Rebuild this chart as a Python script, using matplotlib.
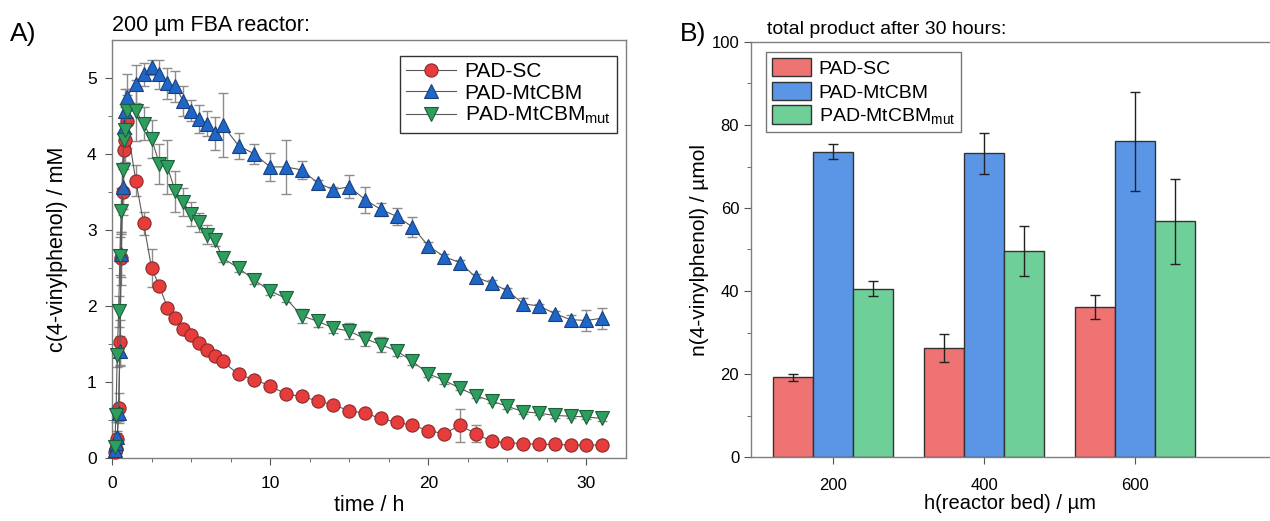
import matplotlib
matplotlib.use("Agg")
import matplotlib.pyplot as plt
import numpy as np

plt.rcParams["font.family"] = ["Liberation Sans", "DejaVu Sans"]
plt.rcParams["mathtext.fontset"] = "custom"
plt.rcParams["mathtext.rm"] = "Liberation Sans"
plt.rcParams["mathtext.it"] = "Liberation Sans:italic"

# --- panel A: time course in the 200 um FBA reactor ---
time_h = [0.17, 0.25, 0.33, 0.42, 0.5, 0.58, 0.67, 0.75, 0.83, 0.92,
          1.5, 2.0, 2.5, 3.0, 3.5, 4.0, 4.5, 5.0, 5.5, 6.0, 6.5, 7.0,
          8, 9, 10, 11, 12, 13, 14, 15, 16, 17, 18, 19, 20, 21, 22, 23,
          24, 25, 26, 27, 28, 29, 30, 31]

sc_conc = [0.08, 0.12, 0.25, 0.66, 1.52, 2.63, 3.50, 4.05, 4.19, 4.43,
           3.65, 3.09, 2.50, 2.26, 1.98, 1.84, 1.70, 1.62, 1.51, 1.42, 1.34, 1.27,
           1.10, 1.03, 0.95, 0.84, 0.81, 0.75, 0.70, 0.62, 0.59, 0.52, 0.47, 0.43,
           0.36, 0.32, 0.43, 0.32, 0.22, 0.20, 0.19, 0.18, 0.18, 0.17, 0.17, 0.17]
sc_err = [0.03, 0.05, 0.10, 0.20, 0.30, 0.35, 0.30, 0.25, 0.30, 0.35,
          0.20, 0.15, 0.25, 0.05, 0.04, 0.04, 0.04, 0.04, 0.04, 0.03, 0.03, 0.03,
          0.03, 0.03, 0.03, 0.05, 0.03, 0.03, 0.03, 0.03, 0.03, 0.03, 0.03, 0.03,
          0.03, 0.03, 0.22, 0.11, 0.03, 0.02, 0.02, 0.02, 0.02, 0.02, 0.02, 0.02]

cbm_conc = [0.10, 0.20, 0.28, 0.59, 1.41, 2.68, 3.57, 4.36, 4.56, 4.75,
            4.92, 5.05, 5.14, 5.05, 4.93, 4.89, 4.70, 4.57, 4.46, 4.40, 4.27, 4.38,
            4.11, 4.00, 3.83, 3.83, 3.79, 3.62, 3.53, 3.57, 3.40, 3.27, 3.18, 3.04,
            2.79, 2.65, 2.57, 2.38, 2.30, 2.20, 2.03, 2.00, 1.90, 1.82, 1.81, 1.84]
cbm_err = [0.03, 0.05, 0.05, 0.10, 0.20, 0.30, 0.30, 0.30, 0.30, 0.30,
           0.25, 0.15, 0.10, 0.19, 0.20, 0.20, 0.20, 0.14, 0.18, 0.16, 0.22, 0.42,
           0.17, 0.13, 0.18, 0.35, 0.12, 0.04, 0.04, 0.15, 0.17, 0.08, 0.11, 0.13,
           0.05, 0.04, 0.04, 0.04, 0.04, 0.04, 0.08, 0.03, 0.04, 0.06, 0.14, 0.14]

mut_conc = [0.15, 0.57, 1.35, 1.93, 2.66, 3.25, 3.79, 4.18, 4.32, 4.56,
            4.57, 4.40, 4.20, 3.87, 3.83, 3.51, 3.37, 3.21, 3.10, 2.94, 2.87, 2.63,
            2.50, 2.34, 2.20, 2.10, 1.87, 1.80, 1.71, 1.67, 1.57, 1.49, 1.41, 1.27,
            1.11, 1.02, 0.92, 0.82, 0.75, 0.68, 0.61, 0.59, 0.56, 0.55, 0.54, 0.52]
mut_err = [0.05, 0.10, 0.15, 0.20, 0.25, 0.30, 0.30, 0.30, 0.30, 0.30,
           0.40, 0.22, 0.25, 0.26, 0.35, 0.27, 0.18, 0.16, 0.13, 0.13, 0.08, 0.05,
           0.05, 0.05, 0.05, 0.05, 0.09, 0.08, 0.07, 0.10, 0.10, 0.10, 0.07, 0.05,
           0.05, 0.04, 0.03, 0.03, 0.03, 0.03, 0.03, 0.03, 0.03, 0.03, 0.03, 0.03]

# --- panel B: total product after 30 h ---
bed_height = [200, 400, 600]
sc_total = [19.2, 26.3, 36.2]
sc_total_err = [0.9, 3.3, 2.9]
cbm_total = [73.6, 73.2, 76.1]
cbm_total_err = [1.9, 4.9, 11.9]
mut_total = [40.5, 49.6, 56.8]
mut_total_err = [1.8, 6.1, 10.3]

labels = ["PAD-SC", "PAD-MtCBM", r"PAD-MtCBM$_{\mathrm{mut}}$"]

fig = plt.figure(figsize=(12.7, 5.21), dpi=100)
spine_col = "#7f7f7f"

# ---------------- A ----------------
axA = fig.add_axes([112 / 1270, 63 / 521, 514 / 1270, 418 / 521])
series = [
    (sc_conc, sc_err, "o", "#e63c3c", "#8a2a2a", 9.5),
    (cbm_conc, cbm_err, "^", "#1f66c9", "#1b3f7a", 10.5),
    (mut_conc, mut_err, "v", "#2e9e5f", "#1d5e3a", 10.5),
]
for (c, e, m, fc, ec, ms), lab in zip(series, labels):
    axA.errorbar(time_h, c, yerr=e, fmt="none", ecolor="#8c8c8c", elinewidth=1.0,
                 capsize=3.5, capthick=1.0, zorder=2, clip_on=False)
    axA.plot(time_h, c, color="#5a5a5a", lw=0.8, marker=m, ms=ms, mfc=fc, mec=ec,
             mew=0.8, label=lab, zorder=3, clip_on=False)

axA.set_xlim(0, 32.5)
axA.set_ylim(0, 5.5)
axA.set_xticks([0, 10, 20, 30])
axA.set_xticks(np.arange(0, 32.5, 2.5), minor=True)
axA.set_yticks([0, 1, 2, 3, 4, 5])
axA.set_yticks(np.arange(0, 5.5, 0.5), minor=True)
axA.tick_params(which="both", direction="out", colors="#555555", labelcolor="black",
                labelsize=12.5)
axA.tick_params(which="major", length=5)
axA.tick_params(which="minor", length=3)
axA.tick_params(axis="x", pad=8)
axA.tick_params(axis="y", pad=6)
for s in axA.spines.values():
    s.set_color(spine_col)
    s.set_linewidth(1.0)
axA.set_xlabel("time / h", fontsize=15.5, labelpad=3)
axA.set_ylabel("c(4-vinylphenol) / mM", fontsize=15.5, labelpad=14)
axA.text(0.0, 1.01, "200 µm FBA reactor:", transform=axA.transAxes, fontsize=15.5,
         ha="left", va="bottom")
fig.text(10 / 1270, 1 - 34 / 521, "A)", fontsize=19, ha="left", va="center")
legA = axA.legend(loc="upper right", bbox_to_anchor=(0.982, 0.962), fontsize=15,
                  frameon=True, fancybox=False, edgecolor="black", handlelength=2.4,
                  borderpad=0.3, labelspacing=0.12, handletextpad=0.4, borderaxespad=0)
legA.get_frame().set_linewidth(1.0)

# ---------------- B ----------------
axB = fig.add_axes([751 / 1270, 64 / 521, 519 / 1270, 415 / 521])
x = np.array(bed_height, dtype=float)
w = 53
bar_sets = [
    (sc_total, sc_total_err, "#f07373"),
    (cbm_total, cbm_total_err, "#5b96e6"),
    (mut_total, mut_total_err, "#6fcf98"),
]
for i, ((vals, errs, col), lab) in enumerate(zip(bar_sets, labels)):
    axB.bar(x + (i - 1) * w, vals, width=w, color=col, edgecolor="#333333",
            linewidth=1.0, label=lab, zorder=2)
    axB.errorbar(x + (i - 1) * w, vals, yerr=errs, fmt="none", ecolor="#222222",
                 elinewidth=1.0, capsize=3.5, capthick=1.0, zorder=3)

axB.set_xlim(91, 779)
axB.set_ylim(0, 100)
axB.set_xticks(bed_height)
axB.set_yticks([0, 20, 40, 60, 80, 100])
axB.set_yticks(np.arange(0, 101, 10), minor=True)
axB.tick_params(which="both", direction="out", colors="#555555", labelcolor="black",
                labelsize=12)
axB.tick_params(which="major", length=5)
axB.tick_params(which="minor", length=3)
axB.tick_params(axis="x", pad=10)
axB.spines["right"].set_visible(False)
for s in ["left", "bottom", "top"]:
    axB.spines[s].set_color(spine_col)
    axB.spines[s].set_linewidth(1.0)
axB.set_xlabel("h(reactor bed) / µm", fontsize=14.5, labelpad=1)
axB.set_ylabel("n(4-vinylphenol) / µmol", fontsize=15, labelpad=2)
axB.text(0.03, 1.01, "total product after 30 hours:", transform=axB.transAxes,
         fontsize=14, ha="left", va="bottom")
fig.text(680 / 1270, 1 - 34 / 521, "B)", fontsize=19, ha="left", va="center")
legB = axB.legend(loc="upper left", bbox_to_anchor=(0.029, 0.976), fontsize=14,
                  frameon=True, fancybox=False, edgecolor="#555555", handlelength=2.0,
                  handleheight=1.1, borderpad=0.3, labelspacing=0.2, handletextpad=0.4,
                  borderaxespad=0)
legB.get_frame().set_linewidth(1.0)

fig.savefig("out.png", dpi=100)
